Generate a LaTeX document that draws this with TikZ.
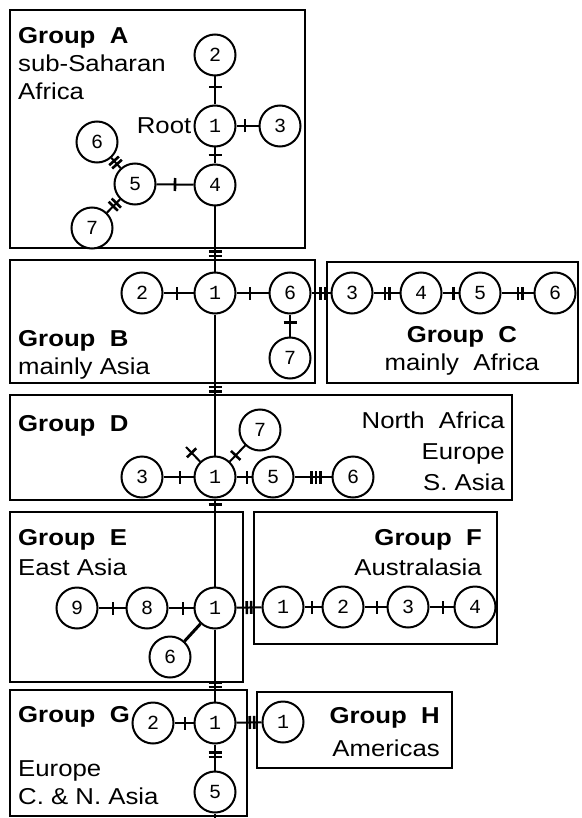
\documentclass[tikz,border=0pt]{standalone}
\usepackage{fontspec}
\newfontfamily\labfont[FakeStretch=1.12]{Liberation Sans}
\newfontfamily\numfont{Liberation Mono}
\usetikzlibrary{positioning,decorations.markings}

\tikzset{
    hap/.style={circle, draw, line width=2pt, fill=white, minimum size=41pt, inner sep=0pt,
        font=\numfont\fontsize{20}{20}\selectfont},
    link/.style={line width=2pt},
    grp/.style={line width=2.6pt},
    txt/.style={inner sep=0pt, align=left, font=\labfont\fontsize{23}{28}\selectfont},
    bar/.style={line width=2.6pt},
    mut/.style={postaction={decorate, decoration={markings,
        mark=at position #1 with {\draw[bar] (0,-6.5pt) -- (0,6.5pt);}}}},
    mut/.default=.5,
    dmut/.style={postaction={decorate, decoration={markings,
        mark=at position #1 with {\draw[bar] (-2.2pt,-6.5pt) -- (-2.2pt,6.5pt) (2.2pt,-6.5pt) -- (2.2pt,6.5pt);}}}},
    dmut/.default=.5,
    tmut/.style={postaction={decorate, decoration={markings,
        mark=at position #1 with {\draw[bar] (-4.4pt,-6.5pt) -- (-4.4pt,6.5pt) (0,-6.5pt) -- (0,6.5pt) (4.4pt,-6.5pt) -- (4.4pt,6.5pt);}}}},
    tmut/.default=.5
}

\begin{document}
\begin{tikzpicture}[x=1pt, y=-1pt]
    \useasboundingbox (0,0) rectangle (581,818);

    % group boxes
    \draw[grp] (10,10) rectangle (305,248);
    \draw[grp] (10,260) rectangle (315,383);
    \draw[grp] (327,262) rectangle (578,383);
    \draw[grp] (10,395) rectangle (512,500);
    \draw[grp] (10,512) rectangle (243,682);
    \draw[grp] (254,512) rectangle (497,644);
    \draw[grp] (10,690) rectangle (247,816);
    \draw[grp] (257,692) rectangle (452,768);

    % group labels
    \node[txt, anchor=north west] (tA) at (18,27) {{\bfseries Group~~A}\\sub-Saharan\\Africa};
    \node[txt, anchor=north west] (tB) at (18,330) {{\bfseries Group~~B}\\mainly Asia};
    \node[txt, anchor=north, align=center] (tC) at (462,326) {{\bfseries Group~~C}\\mainly~~Africa};
    \node[txt, anchor=north west] (tD) at (18,415) {\bfseries Group~~D};
    \node[txt, anchor=north east, align=right] (tD2) at (505,412) {North~~Africa\\[3pt]Europe\\[3pt]S. Asia};
    \node[txt, anchor=north west] (tE) at (18,529) {{\bfseries Group~~E}\\[2pt]East Asia};
    \node[txt, anchor=north east, align=right] (tF) at (482,529) {{\bfseries Group~~F}\\[2pt]Australasia};
    \node[txt, anchor=west] (tG) at (18,717) {\bfseries Group~~G};
    \node[txt, anchor=north west] (tG2) at (18,760) {Europe\\C. \& N. Asia};
    \node[txt, anchor=north east, align=right] (tH) at (440,707) {{\bfseries Group~~H}\\[5pt]Americas};

    % haplotypes
    \node[hap] (A1) at (215,126) {1};
    \node[hap] (A2) at (215,55) {2};
    \node[hap] (A3) at (280,126) {3};
    \node[hap] (A4) at (215,185) {4};
    \node[hap] (A5) at (135,184) {5};
    \node[hap] (A6) at (97,142) {6};
    \node[hap] (A7) at (92,228) {7};
    \node[txt, left=2pt of A1] (root) {Root};

    \node[hap] (B1) at (215,293) {1};
    \node[hap] (B2) at (142,293) {2};
    \node[hap] (B6) at (290,293) {6};
    \node[hap] (B7) at (290,358) {7};

    \node[hap] (C3) at (352,293) {3};
    \node[hap] (C4) at (421,293) {4};
    \node[hap] (C5) at (480,293) {5};
    \node[hap] (C6) at (555,293) {6};

    \node[hap] (D1) at (215,477) {1};
    \node[hap] (D3) at (142,477) {3};
    \node[hap] (D5) at (273,477) {5};
    \node[hap] (D6) at (353,477) {6};
    \node[hap] (D7) at (260,430) {7};
    \coordinate (D0) at (186,447);

    \node[hap] (E1) at (215,608) {1};
    \node[hap] (E8) at (147,608) {8};
    \node[hap] (E9) at (77,608) {9};
    \node[hap] (E6) at (170,657) {6};

    \node[hap] (F1) at (283,607) {1};
    \node[hap] (F2) at (343,607) {2};
    \node[hap] (F3) at (408,607) {3};
    \node[hap] (F4) at (475,607) {4};

    \node[hap] (G1) at (215,723) {1};
    \node[hap] (G2) at (153,723) {2};
    \node[hap] (G5) at (215,792) {5};
    \coordinate (G0) at (215,818);

    \node[hap] (H1) at (283,722) {1};

    % mutational steps
    \draw[link, mut=.62] (A1) -- (A2);
    \draw[link, mut=.39] (A1) -- (A3);
    \draw[link, mut=.47] (A1) -- (A4);
    \draw[link, mut=.5] (A4) -- (A5);
    \draw[link, dmut=.55] (A5) -- (A6);
    \draw[link, dmut=.4] (A5) -- (A7);
    \draw[link, dmut=.73] (A4) -- (B1);

    \draw[link, mut=.45] (B2) -- (B1);
    \draw[link, mut=.42] (B1) -- (B6);
    \draw[link, mut=.35] (B6) -- (B7);
    \draw[link, dmut=.6] (B6) -- (C3);
    \draw[link, dmut=.52] (C3) -- (C4);
    \draw[link, mut=.7] (C4) -- (C5);
    \draw[link, dmut=.58] (C5) -- (C6);
    \draw[link, dmut=.53] (B1) -- (D1);

    \draw[link, mut=.55] (D3) -- (D1);
    \draw[link, mut=.69] (D1) -- (D5);
    \draw[link, tmut=.58] (D5) -- (D6);
    \draw[link, mut=.38] (D1) -- (D7);
    \draw[link, mut=.6] (D1) -- (D0);
    \draw[link, mut=.07] (D1) -- (E1);

    \draw[link, line width=2.6pt, mut=.54] (E9) -- (E8);
    \draw[link, line width=2.6pt, mut=.58] (E8) -- (E1);
    \draw[link, line width=3pt] (E1) -- (E6);
    \draw[link, dmut=.5] (E1) -- (F1);
    \draw[link, mut=.45] (F1) -- (F2);
    \draw[link, mut=.57] (F2) -- (F3);
    \draw[link, mut=.56] (F3) -- (F4);
    \draw[link, dmut=.77] (E1) -- (G1);

    \draw[link, mut=.55] (G2) -- (G1);
    \draw[link, dmut=.62] (G1) -- (H1);
    \draw[link, dmut=.4] (G1) -- (G5);
    \draw[link] (G5) -- (G0);
\end{tikzpicture}
\end{document}
